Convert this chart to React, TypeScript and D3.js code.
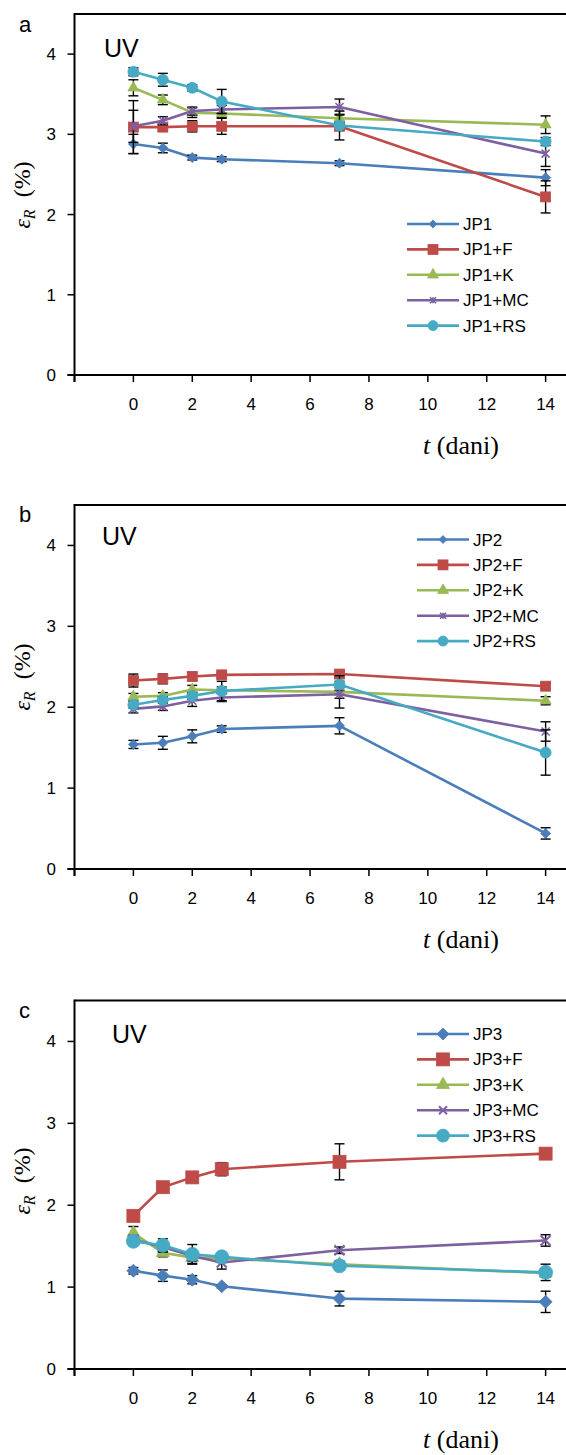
import React from 'react';
import * as d3 from 'd3';

const T = [0, 1, 2, 3, 7, 14];
const xTicks = [-2, 0, 2, 4, 6, 8, 10, 12, 14];
const xTickLabels = ['', '0', '2', '4', '6', '8', '10', '12', '14'];
const yTicks = [0, 1, 2, 3, 4];
const seriesColors = ['#4A7EBB', '#BE4B48', '#98B954', '#7D60A0', '#46AAC5'];

// Panel a
const aNames = ['JP1', 'JP1+F', 'JP1+K', 'JP1+MC', 'JP1+RS'];
const aJP1 = [2.88, 2.83, 2.71, 2.69, 2.64, 2.46];
const aJP1F = [3.09, 3.09, 3.10, 3.10, 3.10, 2.22];
const aJP1K = [3.58, 3.43, 3.27, 3.26, 3.20, 3.12];
const aJP1MC = [3.10, 3.17, 3.29, 3.31, 3.34, 2.76];
const aJP1RS = [3.78, 3.68, 3.58, 3.41, 3.11, 2.91];
const aErrJP1 = [0.12, 0.06, 0.03, 0.03, 0.03, 0.1];
const aErrJP1F = [0.33, 0.05, 0.07, 0.1, 0.04, 0.2];
const aErrJP1K = [0.1, 0.06, 0.06, 0.05, 0.05, 0.11];
const aErrJP1MC = [0.2, 0.05, 0.05, 0.05, 0.1, 0.16];
const aErrJP1RS = [0.05, 0.08, 0.04, 0.15, 0.18, 0.05];

// Panel b
const bNames = ['JP2', 'JP2+F', 'JP2+K', 'JP2+MC', 'JP2+RS'];
const bJP2 = [1.54, 1.56, 1.64, 1.73, 1.77, 0.44];
const bJP2F = [2.33, 2.35, 2.38, 2.40, 2.41, 2.26];
const bJP2K = [2.13, 2.14, 2.22, 2.21, 2.19, 2.08];
const bJP2MC = [1.98, 2.01, 2.08, 2.12, 2.16, 1.70];
const bJP2RS = [2.03, 2.09, 2.14, 2.20, 2.28, 1.44];
const bErrJP2 = [0.05, 0.08, 0.08, 0.04, 0.1, 0.07];
const bErrJP2F = [0.08, 0.06, 0.05, 0.03, 0.04, 0.03];
const bErrJP2K = [0.04, 0.04, 0.05, 0.04, 0.2, 0.05];
const bErrJP2MC = [0.05, 0.05, 0.07, 0.05, 0.05, 0.12];
const bErrJP2RS = [0.04, 0.04, 0.04, 0.12, 0.04, 0.28];

// Panel c
const cNames = ['JP3', 'JP3+F', 'JP3+K', 'JP3+MC', 'JP3+RS'];
const cJP3 = [1.20, 1.14, 1.09, 1.01, 0.86, 0.82];
const cJP3F = [1.87, 2.22, 2.34, 2.44, 2.53, 2.63];
const cJP3K = [1.66, 1.42, 1.36, 1.35, 1.28, 1.17];
const cJP3MC = [1.58, 1.49, 1.38, 1.30, 1.45, 1.57];
const cJP3RS = [1.56, 1.51, 1.40, 1.37, 1.26, 1.18];
const cErrJP3 = [0.04, 0.07, 0.05, 0.02, 0.09, 0.13];
const cErrJP3F = [0.03, 0.03, 0.03, 0.08, 0.22, 0.03];
const cErrJP3K = [0.08, 0.05, 0.07, 0.05, 0.04, 0.05];
const cErrJP3MC = [0.05, 0.06, 0.06, 0.08, 0.04, 0.07];
const cErrJP3RS = [0.04, 0.08, 0.12, 0.04, 0.05, 0.1];

type MType = 'diamond' | 'square' | 'triangle' | 'star' | 'x' | 'circle';

function Marker({ type, x, y, s, color }: { type: MType; x: number; y: number; s: number; color: string }) {
  const h = s / 2;
  if (type === 'diamond') {
    return <path d={`M${x},${y - h}L${x + h},${y}L${x},${y + h}L${x - h},${y}Z`} fill={color} stroke={color} strokeWidth={0.8} />;
  }
  if (type === 'square') {
    return <rect x={x - h} y={y - h} width={s} height={s} fill={color} stroke={color} strokeWidth={0.8} />;
  }
  if (type === 'triangle') {
    const tr = s * 0.58;
    return <path d={`M${x},${y - tr}L${x + h},${y + tr * 0.5}L${x - h},${y + tr * 0.5}Z`} fill={color} stroke={color} strokeWidth={0.8} />;
  }
  if (type === 'circle') {
    return <circle cx={x} cy={y} r={h} fill={color} stroke={color} strokeWidth={0.8} />;
  }
  if (type === 'x') {
    return <path d={`M${x - h},${y - h}L${x + h},${y + h}M${x - h},${y + h}L${x + h},${y - h}`} stroke={color} strokeWidth={2} fill="none" />;
  }
  return <path d={`M${x - h},${y - h}L${x + h},${y + h}M${x - h},${y + h}L${x + h},${y - h}M${x},${y - h}L${x},${y + h}`} stroke={color} strokeWidth={1.6} fill="none" />;
}

type PanelDef = {
  letter: string;
  names: string[];
  values: number[][];
  errs: number[][];
  top: number;
  bottom: number;
  letterY: number;
  uvX: number;
  uvY: number;
  yTitleY: number;
  legendY: number;
  legendX1: number;
  markerTypes: MType[];
  msize: number[];
  lsize: number[];
};

const panels: PanelDef[] = [
  {
    letter: 'a', names: aNames,
    values: [aJP1, aJP1F, aJP1K, aJP1MC, aJP1RS],
    errs: [aErrJP1, aErrJP1F, aErrJP1K, aErrJP1MC, aErrJP1RS],
    top: 14, bottom: 375, letterY: 32, uvX: 104, uvY: 57, yTitleY: 195,
    legendY: 224, legendX1: 407,
    markerTypes: ['diamond', 'square', 'triangle', 'star', 'circle'],
    msize: [10, 10, 11, 8, 11], lsize: [8, 10, 11, 6, 10],
  },
  {
    letter: 'b', names: bNames,
    values: [bJP2, bJP2F, bJP2K, bJP2MC, bJP2RS],
    errs: [bErrJP2, bErrJP2F, bErrJP2K, bErrJP2MC, bErrJP2RS],
    top: 505, bottom: 869, letterY: 522, uvX: 102, uvY: 545, yTitleY: 677,
    legendY: 539.5, legendX1: 417,
    markerTypes: ['diamond', 'square', 'triangle', 'star', 'circle'],
    msize: [10, 10, 11, 8, 11], lsize: [8, 10, 11, 6, 10],
  },
  {
    letter: 'c', names: cNames,
    values: [cJP3, cJP3F, cJP3K, cJP3MC, cJP3RS],
    errs: [cErrJP3, cErrJP3F, cErrJP3K, cErrJP3MC, cErrJP3RS],
    top: 1000.5, bottom: 1369, letterY: 1018, uvX: 112, uvY: 1043, yTitleY: 1181,
    legendY: 1034, legendX1: 417,
    markerTypes: ['diamond', 'square', 'triangle', 'x', 'circle'],
    msize: [13, 13, 13, 10, 14], lsize: [12, 13, 13, 8, 13],
  },
];

const sans = '"Liberation Sans", Arial, sans-serif';
const serif = '"Liberation Serif", "Times New Roman", serif';

function Panel({ p }: { p: PanelDef }) {
  const x = d3.scaleLinear().domain([-2, 16]).range([74.5, 604.5]);
  const y = d3.scaleLinear().domain([0, 4.5]).range([p.bottom, p.top]);
  const axisX = x(-2);
  return (
    <g>
      <text x={19} y={p.letterY} fontFamily={sans} fontSize={22} fill="#000">{p.letter}</text>
      {/* frame */}
      <line x1={axisX} x2={566} y1={p.top} y2={p.top} stroke="#000" strokeWidth={2} />
      <line x1={axisX} x2={axisX} y1={p.top - 1} y2={p.bottom + 7} stroke="#000" strokeWidth={2} />
      <line x1={axisX - 7} x2={566} y1={p.bottom} y2={p.bottom} stroke="#000" strokeWidth={2} />
      {yTicks.map((t) => (
        <g key={'y' + t}>
          <line x1={axisX - 7} x2={axisX} y1={y(t)} y2={y(t)} stroke="#000" strokeWidth={1.5} />
          <text x={56} y={y(t) + 6} textAnchor="end" fontFamily={sans} fontSize={17} fill="#000">{t}</text>
        </g>
      ))}
      {xTicks.map((t, i) => (
        <g key={'x' + t}>
          <line x1={x(t)} x2={x(t)} y1={p.bottom} y2={p.bottom + 7} stroke="#000" strokeWidth={1.5} />
          <text x={x(t)} y={p.bottom + 35} textAnchor="middle" fontFamily={sans} fontSize={17} fill="#000">{xTickLabels[i]}</text>
        </g>
      ))}
      <text x={p.uvX} y={p.uvY} fontFamily={sans} fontSize={25} fill="#000">UV</text>
      {/* y title */}
      <text transform={`translate(30,${p.yTitleY}) rotate(-90)`} textAnchor="middle" fontFamily={serif} fontSize={24} fill="#000">
        <tspan fontStyle="italic">ε</tspan>
        <tspan fontStyle="italic" fontSize={16} dy={5}>R</tspan>
        <tspan dy={-5}>{'\u00a0 (%)'}</tspan>
      </text>
      {/* x title */}
      <text x={423} y={p.bottom + 79} fontFamily={serif} fontSize={26} fill="#000">
        <tspan fontStyle="italic">t</tspan> (dani)
      </text>
      {/* series */}
      {p.values.map((vals, si) => {
        const color = seriesColors[si];
        const line = d3.line<number>().x((_, i) => x(T[i])).y((v) => y(v));
        return (
          <g key={'s' + si}>
            <path d={line(vals) || ''} fill="none" stroke={color} strokeWidth={2.6} strokeLinejoin="round" />
            {vals.map((v, i) => {
              const e = p.errs[si][i];
              const cx = x(T[i]);
              return (
                <g key={'e' + i}>
                  <line x1={cx} x2={cx} y1={y(v + e)} y2={y(v - e)} stroke="#000" strokeWidth={1.4} />
                  <line x1={cx - 5} x2={cx + 5} y1={y(v + e)} y2={y(v + e)} stroke="#000" strokeWidth={1.4} />
                  <line x1={cx - 5} x2={cx + 5} y1={y(v - e)} y2={y(v - e)} stroke="#000" strokeWidth={1.4} />
                </g>
              );
            })}
            {vals.map((v, i) => (
              <Marker key={'m' + i} type={p.markerTypes[si]} x={x(T[i])} y={y(v)} s={p.msize[si]} color={color} />
            ))}
          </g>
        );
      })}
      {/* legend */}
      {p.names.map((n, si) => {
        const ly = p.legendY + si * 25.4;
        const color = seriesColors[si];
        return (
          <g key={'l' + si}>
            <line x1={p.legendX1} x2={p.legendX1 + 52} y1={ly} y2={ly} stroke={color} strokeWidth={2.6} />
            <Marker type={p.markerTypes[si]} x={p.legendX1 + 26} y={ly} s={p.lsize[si]} color={color} />
            <text x={p.legendX1 + 56} y={ly + 6} fontFamily={sans} fontSize={17} fill="#000">{n}</text>
          </g>
        );
      })}
    </g>
  );
}

export default function App() {
  return (
    <svg width={566} height={1455} style={{ position: 'absolute', left: 0, top: 0, background: '#fff' }}>
      <rect x={0} y={0} width={566} height={1455} fill="#fff" />
      {panels.map((p) => (
        <Panel key={p.letter} p={p} />
      ))}
    </svg>
  );
}
